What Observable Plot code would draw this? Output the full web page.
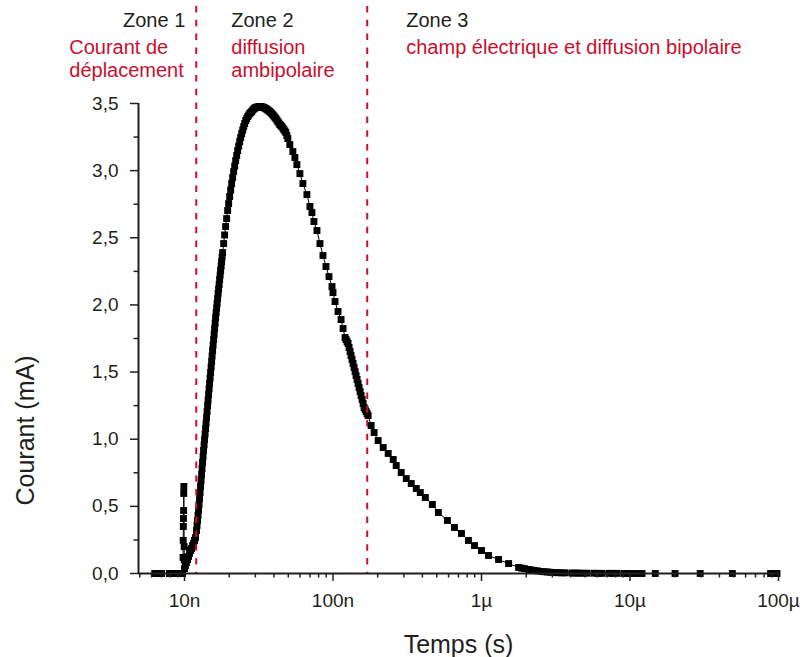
<!DOCTYPE html>
<html><head><meta charset="utf-8">
<script src="https://cdn.jsdelivr.net/npm/d3@7"></script>
<script src="https://cdn.jsdelivr.net/npm/@observablehq/plot@0.6"></script>
<style>
html,body{margin:0;padding:0;background:#fff;}
#chart{width:805px;height:657px;}
</style></head><body><div id="chart"></div>
<script>
// Time in nanoseconds
const timeNs = [
  6.3, 6.6, 7.0, 7.9, 8.3, 8.8, 9.3, 9.7,
  9.78, 9.8, 9.82, 9.84, 9.86, 9.88, 9.9, 9.95, 9.97,
  10.00, 10.16, 10.31, 10.48, 10.64, 10.81, 10.98, 11.15, 11.33, 11.50, 11.68, 11.87,
  12.05, 12.14, 12.24, 12.33, 12.43, 12.53, 12.63, 12.73, 12.83, 12.93, 13.03, 13.13, 13.23, 13.34,
  13.44, 13.55, 13.65, 13.76, 13.87, 13.97, 14.08, 14.19, 14.31, 14.42, 14.53, 14.64, 14.75, 14.87,
  14.99, 15.11, 15.23, 15.34, 15.46, 15.58, 15.71, 15.83, 15.95, 16.08, 16.20, 16.33, 16.46, 16.58,
  16.71, 16.84, 16.97, 17.11, 17.24, 17.38, 17.51, 17.65, 17.78, 17.92, 18.06,
  18.35, 18.63, 18.92, 19.22, 19.52, 19.83, 20.14, 20.46, 20.78, 21.10, 21.43, 21.77, 22.11,
  22.46, 22.81, 23.17, 23.53, 23.90, 24.28, 24.66, 25.05, 25.43, 25.84, 26.24, 26.65, 27.07,
  27.49, 27.92, 28.36, 28.81, 29.26, 29.72, 30.18, 30.66, 31.13, 31.63, 32.13, 32.63, 33.13,
  33.65, 34.18, 34.72, 35.27, 35.82, 36.38, 36.95, 37.53, 38.12, 38.71, 39.33, 39.94, 40.56,
  41.20, 41.85, 42.50, 43.17, 43.85, 44.54, 45.22, 45.94, 46.66, 47.39, 48.13, 48.89, 49.65,
  51.22, 53.66, 55.36, 57.12, 59.84, 62.70, 66.73, 69.92, 72.13, 74.41, 77.96, 81.69,
  85.59, 89.68, 93.97, 98.45, 100.0, 103.2, 108.1, 113.3, 116.9, 120.5,
  122.4, 124.3, 126.3, 128.3, 130.3, 132.3, 134.4, 136.5, 138.7, 140.8, 143.0, 145.3,
  147.6, 149.9, 152.2, 154.6, 157.1, 159.5, 162.0, 164.6, 167.1, 169.8, 172.4,
  180.6, 189.2, 201.4, 217.7, 235.3, 254.3, 266.5, 288.0, 311.3, 336.5, 363.8, 387.1,
  418.5, 466.6, 512.3, 589.4, 657.2, 732.8, 817, 897, 1000, 1115, 1303, 1522,
  1778, 1863, 1952, 2078, 2177, 2281, 2390, 2543, 2666, 2792, 2926, 3113, 3263, 3472, 3638, 4056, 4317, 4522, 4814, 5122,
  5712, 6078, 6469, 7215, 7675, 8170, 9110, 9694, 10320, 11150, 12050, 14800, 20100, 29700, 48900, 88400, 93100, 97700
];
// Current in mA
const currentMA = [
  0, 0, 0, 0, 0, 0, 0, 0,
  0.12, 0.246, 0.350, 0.410, 0.469, 0.596, 0.648, 0.20, 0.10,
  0.037, 0.060, 0.082, 0.104, 0.127, 0.149, 0.171, 0.186, 0.208, 0.223, 0.246, 0.268,
  0.320, 0.357, 0.395, 0.432, 0.469, 0.514, 0.558, 0.603, 0.648, 0.692, 0.737, 0.782, 0.827, 0.871,
  0.916, 0.957, 0.998, 1.039, 1.080, 1.121, 1.162, 1.206, 1.251, 1.292, 1.333, 1.374, 1.415, 1.456,
  1.497, 1.538, 1.579, 1.620, 1.660, 1.701, 1.742, 1.783, 1.824, 1.865, 1.906, 1.943, 1.977, 2.010,
  2.048, 2.085, 2.118, 2.152, 2.189, 2.223, 2.256, 2.290, 2.323, 2.357, 2.390,
  2.457, 2.521, 2.584, 2.643, 2.703, 2.755, 2.807, 2.856, 2.904, 2.949, 2.993, 3.034, 3.075,
  3.113, 3.150, 3.183, 3.217, 3.247, 3.276, 3.302, 3.328, 3.351, 3.373, 3.388, 3.403, 3.414,
  3.425, 3.433, 3.440, 3.451, 3.459, 3.466, 3.470, 3.472, 3.474, 3.476, 3.477, 3.476, 3.475,
  3.473, 3.470, 3.466, 3.462, 3.457, 3.451, 3.446, 3.440, 3.433, 3.425, 3.416, 3.407, 3.398,
  3.388, 3.377, 3.366, 3.355, 3.343, 3.336, 3.328, 3.317, 3.306, 3.295, 3.284, 3.261, 3.239,
  3.194, 3.142, 3.098, 3.045, 2.978, 2.904, 2.822, 2.733, 2.688, 2.621, 2.554, 2.457,
  2.368, 2.286, 2.211, 2.137, 2.092, 2.025, 1.951, 1.891, 1.824, 1.757,
  1.742, 1.727, 1.713, 1.683, 1.653, 1.623, 1.593, 1.564, 1.534, 1.504, 1.474, 1.444,
  1.415, 1.385, 1.355, 1.325, 1.296, 1.266, 1.236, 1.221, 1.206, 1.191, 1.176,
  1.102, 1.050, 0.990, 0.938, 0.894, 0.849, 0.804, 0.752, 0.707, 0.670, 0.633, 0.603,
  0.566, 0.514, 0.454, 0.395, 0.343, 0.298, 0.246, 0.208, 0.171, 0.134, 0.104, 0.074,
  0.045, 0.040, 0.036, 0.030, 0.026, 0.022, 0.019, 0.015, 0.013, 0.011, 0.009, 0.007, 0.006, 0.005, 0.005, 0.004, 0.003, 0.003, 0.002, 0.002,
  0.002, 0.001, 0.001, 0.001, 0.001, 0.001, 0, 0, 0, 0, 0, 0, 0, 0, 0, 0, 0, 0
];
const zoneBoundsNs = [12, 170];
const zoneTitles = ["Zone 1", "Zone 2", "Zone 3"];
const zoneDescriptions = ["Courant de\ndéplacement", "diffusion\nambipolaire", "champ électrique et diffusion bipolaire"];
const xDomain = [4.9e-9, 1e-4];
const xTickValues = [1e-8, 1e-7, 1e-6, 1e-5, 1e-4];
const xTickLabels = ["10n", "100n", "1µ", "10µ", "100µ"];
const yTickValues = [0, 0.5, 1, 1.5, 2, 2.5, 3, 3.5];
const yTickLabels = ["0,0", "0,5", "1,0", "1,5", "2,0", "2,5", "3,0", "3,5"];
const xLabel = "Temps (s)";
const yLabel = "Courant (mA)";

const n = Math.min(timeNs.length, currentMA.length);
const data = timeNs.slice(0, n).map((t, i) => ({t: t * 1e-9, I: currentMA[i]}));
const bounds = zoneBoundsNs.map(t => t * 1e-9);

const xMinor = [];
for (let e = -9; e <= -5; e++) for (let m = 2; m <= 9; m++) {
  const v = m * Math.pow(10, e);
  if (v >= xDomain[0] && v <= xDomain[1]) xMinor.push(v);
}
const yMinor = yTickValues.slice(0, -1).map(v => v + 0.25);

const RED = "#c8102e";
const INK = "#231f20";
const font = "'Liberation Sans', Arial, Helvetica, sans-serif";

const chart = Plot.plot({
  width: 805,
  height: 657,
  marginTop: 103,
  marginBottom: 84,
  marginLeft: 138,
  marginRight: 27,
  style: {fontFamily: font, fontSize: "19px", color: INK, background: "#fff"},
  x: {type: "log", domain: xDomain},
  y: {domain: [0, 3.5]},
  marks: [
    Plot.line(data, {x: "t", y: "I", stroke: "#000", strokeWidth: 1}),
    Plot.dot(data, {x: "t", y: "I", symbol: "square", r: 3.9, fill: "#000", stroke: "none"}),
    Plot.ruleX(bounds, {stroke: RED, strokeWidth: 2, strokeDasharray: "6.5,7.3", insetTop: -97}),
    // axes
    Plot.axisX(xTickValues, {tickSize: 8, tickPadding: 12, strokeWidth: 1.5, fontSize: 19,
      tickFormat: d => xTickLabels[xTickValues.indexOf(d)], label: null}),
    Plot.axisX(xMinor, {tickSize: 4.5, strokeWidth: 1.5, tickFormat: () => "", label: null}),
    Plot.axisY(yTickValues, {tickSize: 8, tickPadding: 12, strokeWidth: 1.5, fontSize: 19,
      tickFormat: d => yTickLabels[yTickValues.indexOf(d)], label: null}),
    Plot.axisY(yMinor, {tickSize: 4.5, strokeWidth: 1.5, tickFormat: () => "", label: null}),
    Plot.ruleY([0], {stroke: INK, strokeWidth: 2}),
    Plot.ruleX([xDomain[0]], {stroke: INK, strokeWidth: 2}),
    // axis titles
    Plot.text([xLabel], {frameAnchor: "bottom", textAnchor: "middle", lineAnchor: "bottom", dy: 79, fontSize: 25, fill: INK}),
    Plot.text([yLabel], {frameAnchor: "left", textAnchor: "middle", lineAnchor: "bottom", rotate: -90, dx: -105, dy: 92, fontSize: 25, fill: INK}),
    // zone annotations
    Plot.text([bounds[0]], {x: d => d, frameAnchor: "top", text: () => zoneTitles[0], textAnchor: "end", lineAnchor: "bottom", dx: -11, dy: -77, fontSize: 20, fill: INK}),
    Plot.text([bounds[0]], {x: d => d, frameAnchor: "top", text: () => zoneDescriptions[0], textAnchor: "start", lineAnchor: "bottom", lineHeight: 1.15, dx: -127, dy: -27, fontSize: 20, fill: RED}),
    Plot.text([bounds[0]], {x: d => d, frameAnchor: "top", text: () => zoneTitles[1], textAnchor: "start", lineAnchor: "bottom", dx: 35, dy: -77, fontSize: 20, fill: INK}),
    Plot.text([bounds[0]], {x: d => d, frameAnchor: "top", text: () => zoneDescriptions[1], textAnchor: "start", lineAnchor: "bottom", lineHeight: 1.15, dx: 35, dy: -27, fontSize: 20, fill: RED}),
    Plot.text([bounds[1]], {x: d => d, frameAnchor: "top", text: () => zoneTitles[2], textAnchor: "start", lineAnchor: "bottom", dx: 39, dy: -77, fontSize: 20, fill: INK}),
    Plot.text([bounds[1]], {x: d => d, frameAnchor: "top", text: () => zoneDescriptions[2], textAnchor: "start", lineAnchor: "bottom", dx: 39, dy: -50, fontSize: 20, fill: RED})
  ]
});
document.getElementById("chart").appendChild(chart);
</script></body></html>
